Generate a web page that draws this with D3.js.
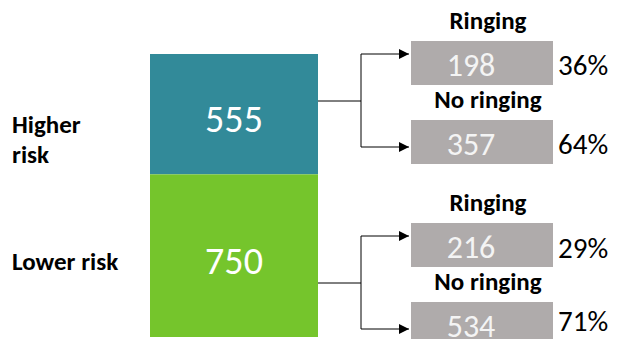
<!DOCTYPE html>
<html>
<head>
<meta charset="utf-8">
<script src="https://cdn.jsdelivr.net/npm/d3@7"></script>
<style>
  body { margin: 0; background: #fff; }
  text { font-family: Carlito, "Open Sans", "Noto Sans", sans-serif; }
</style>
</head>
<body>
<div class="container"></div>
<script>
// data
var groups = ["Higher risk", "Lower risk"];
var groupLines = [["Higher", "risk"], ["Lower risk"]];
var totals = [555, 750];
var outcomes = ["Ringing", "No ringing"];
var ringing = [198, 216];
var noRinging = [357, 534];

var opts = {width: 624, height: 339,
            barX: 150, barW: 168, barTop: 54, barBottom: 337,
            boxX: 411, boxW: 142, boxH: 44,
            teal: "#328a99", green: "#75c52c", grey: "#afabab"};

var svg = d3.select(".container")
    .append("svg")
    .attr("width", opts.width)
    .attr("height", opts.height);

svg.append("defs").append("marker")
    .attr("id", "arrow")
    .attr("viewBox", "0 0 10 10")
    .attr("refX", 10).attr("refY", 5)
    .attr("markerWidth", 12).attr("markerHeight", 10)
    .attr("markerUnits", "userSpaceOnUse")
    .attr("orient", "auto")
  .append("path")
    .attr("d", "M0,0L10,5L0,10Z")
    .attr("fill", "#000");

// stacked bar
var stackData = [];
var run = 0;
totals.forEach(function(v, i){
  stackData.push({key: groups[i], y0: run, y1: run + v, value: v, i: i});
  run += v;
});

var y = d3.scaleLinear()
    .domain([0, d3.sum(totals)])
    .range([opts.barTop, opts.barBottom]);

var color = d3.scaleOrdinal().domain(groups).range([opts.teal, opts.green]);

svg.selectAll("rect.seg")
    .data(stackData)
  .enter().append("rect")
    .attr("class", "seg")
    .attr("x", opts.barX)
    .attr("width", opts.barW)
    .attr("y", function(d){ return y(d.y0); })
    .attr("height", function(d){ return y(d.y1) - y(d.y0); })
    .attr("fill", function(d){ return color(d.key); });

svg.selectAll("text.segval")
    .data(stackData)
  .enter().append("text")
    .attr("class", "segval")
    .attr("x", opts.barX + opts.barW / 2)
    .attr("y", function(d){ return (y(d.y0) + y(d.y1)) / 2 + 18; })
    .attr("text-anchor", "middle")
    .attr("fill", "#fff")
    .attr("font-size", 38)
    .text(function(d){ return d.value; });

// left labels
var labelY = [133, 270];
groupLines.forEach(function(lines, i){
  var t = svg.append("text")
      .attr("x", 12)
      .attr("y", labelY[i])
      .attr("font-size", 25)
      .attr("font-weight", "bold")
      .attr("fill", "#000");
  lines.forEach(function(l, j){
    t.append("tspan").attr("x", 12).attr("dy", j === 0 ? 0 : 30).text(l);
  });
});

// right side boxes
var groupOffset = [0, 182];
var boxTop = [41, 120];
var arrowY = [54, 147];
var pctDy = [[34, 34], [35, 29]];
var junctionY = 101;
var splitX = 361;
var fmt = d3.format(".0%");

var boxes = [];
groups.forEach(function(g, i){
  [ringing[i], noRinging[i]].forEach(function(v, j){
    boxes.push({group: i, sub: j, label: outcomes[j], value: v,
                pct: v / totals[i], top: boxTop[j] + groupOffset[i]});
  });
});

svg.selectAll("rect.box")
    .data(boxes)
  .enter().append("rect")
    .attr("class", "box")
    .attr("x", opts.boxX)
    .attr("y", function(d){ return d.top; })
    .attr("width", opts.boxW)
    .attr("height", opts.boxH)
    .attr("fill", opts.grey);

svg.selectAll("text.boxval")
    .data(boxes)
  .enter().append("text")
    .attr("class", "boxval")
    .attr("x", opts.boxX + 60)
    .attr("y", function(d){ return d.top + 35; })
    .attr("text-anchor", "middle")
    .attr("fill", "#f4f4f4")
    .attr("font-size", 32)
    .text(function(d){ return d.value; });

svg.selectAll("text.boxlab")
    .data(boxes)
  .enter().append("text")
    .attr("class", "boxlab")
    .attr("x", opts.boxX + 77)
    .attr("y", function(d){ return d.top - 12; })
    .attr("text-anchor", "middle")
    .attr("font-size", 25)
    .attr("font-weight", "bold")
    .attr("fill", "#000")
    .text(function(d){ return d.label; });

svg.selectAll("text.pct")
    .data(boxes)
  .enter().append("text")
    .attr("class", "pct")
    .attr("x", 558)
    .attr("y", function(d){ return d.top + pctDy[d.group][d.sub]; })
    .attr("font-size", 29)
    .attr("fill", "#000")
    .text(function(d){ return fmt(d.pct); });

// connectors
groups.forEach(function(g, i){
  var off = groupOffset[i];
  var conn = svg.append("g").attr("fill", "none").attr("stroke", "#000").attr("stroke-width", 1);
  conn.append("path")
      .attr("d", "M" + (opts.barX + opts.barW) + "," + (junctionY + off) + "H" + splitX);
  conn.append("path")
      .attr("d", "M" + splitX + "," + (arrowY[0] + off) + "V" + (arrowY[1] + off));
  arrowY.forEach(function(ay){
    conn.append("path")
        .attr("d", "M" + splitX + "," + (ay + off) + "H" + (opts.boxX - 2))
        .attr("marker-end", "url(#arrow)");
  });
});
</script>
</body>
</html>
